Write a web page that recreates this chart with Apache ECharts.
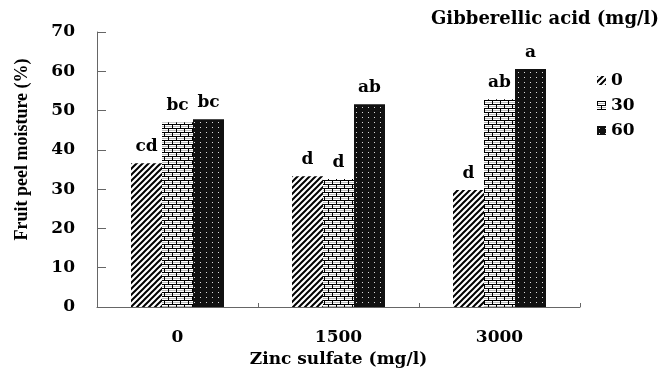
<!DOCTYPE html>
<html>
<head>
<meta charset="utf-8">
<script src="https://cdn.jsdelivr.net/npm/echarts@6/dist/echarts.min.js"></script>
<style>
  html, body { margin: 0; padding: 0; background: #fff; }
  #chart { width: 672px; height: 374px; }
</style>
</head>
<body>
<div id="chart"></div>
<script>
// zinc sulfate levels (x categories)
const zincLevels = ['0', '1500', '3000'];
// gibberellic acid levels (series)
const gaLevels = ['0', '30', '60'];
const ga0 = [36.6, 33.3, 29.8];
const ga30 = [47.0, 32.6, 52.9];
const ga60 = [47.8, 51.6, 60.6];
const letters0 = ['cd', 'd', 'd'];
const letters30 = ['bc', 'd', 'ab'];
const letters60 = ['bc', 'ab', 'a'];

const wide = 'DejaVu Serif';
const narrow = 'Liberation Serif';

function makeCanvas(w, h) {
  const c = document.createElement('canvas');
  c.width = w;
  c.height = h;
  return c;
}

function hatchPattern() {
  const c = makeCanvas(6, 6);
  const g = c.getContext('2d');
  g.fillStyle = '#fff';
  g.fillRect(0, 0, 6, 6);
  g.strokeStyle = '#000';
  g.lineWidth = 2;
  g.beginPath();
  g.moveTo(-3, 3); g.lineTo(3, -3);
  g.moveTo(0, 6); g.lineTo(6, 0);
  g.moveTo(3, 9); g.lineTo(9, 3);
  g.stroke();
  return c;
}

function brickPattern() {
  const c = makeCanvas(8, 8);
  const g = c.getContext('2d');
  g.fillStyle = '#fff';
  g.fillRect(0, 0, 8, 8);
  g.fillStyle = '#bbb';
  g.fillRect(0, 2, 8, 1);
  g.fillRect(0, 6, 8, 1);
  g.fillStyle = '#000';
  g.fillRect(0, 0, 8, 1);
  g.fillRect(0, 4, 8, 1);
  g.fillRect(0, 1, 1, 3);
  g.fillRect(4, 5, 1, 3);
  return c;
}

function dotPattern() {
  const c = makeCanvas(6, 5);
  const g = c.getContext('2d');
  g.fillStyle = '#111';
  g.fillRect(0, 0, 6, 5);
  g.fillStyle = 'rgba(255,255,255,0.85)';
  g.fillRect(2, 2, 1, 1);
  return c;
}

const patterns = [hatchPattern(), brickPattern(), dotPattern()];
const seriesData = [ga0, ga30, ga60];
const seriesLetters = [letters0, letters30, letters60];

const chart = echarts.init(document.getElementById('chart'), null, { renderer: 'canvas' });

chart.setOption({
  animation: false,
  backgroundColor: '#fff',
  title: {
    text: 'Gibberellic acid (mg/l)',
    left: 426,
    top: 5,
    textStyle: { fontFamily: wide, fontWeight: 'bold', fontSize: 18, color: '#000' }
  },
  legend: {
    orient: 'vertical',
    left: 592,
    top: 67,
    itemWidth: 9,
    itemHeight: 9,
    itemGap: 8,
    icon: 'rect',
    textStyle: { fontFamily: wide, fontWeight: 'bold', fontSize: 17, color: '#000' },
    data: gaLevels
  },
  grid: { left: 97, right: 92, top: 32, bottom: 67 },
  xAxis: {
    type: 'category',
    data: zincLevels,
    name: 'Zinc sulfate (mg/l)',
    nameLocation: 'middle',
    nameGap: 43,
    nameTextStyle: { fontFamily: wide, fontWeight: 'bold', fontSize: 17, color: '#000' },
    axisLine: { lineStyle: { color: '#666', width: 1 } },
    axisTick: { show: true, inside: true, length: 4, lineStyle: { color: '#666' } },
    axisLabel: { fontFamily: wide, fontWeight: 'bold', fontSize: 17, color: '#000', margin: 22 }
  },
  yAxis: {
    type: 'value',
    min: 0,
    max: 70,
    interval: 10,
    name: 'Fruit peel moisture (%)',
    nameLocation: 'middle',
    nameGap: 66,
    nameTextStyle: { fontFamily: narrow, fontWeight: 'bold', fontSize: 18, color: '#000', padding: [0, 0, 0, 40] },
    splitLine: { show: false },
    axisLine: { show: true, lineStyle: { color: '#666', width: 1 } },
    axisTick: { show: true, inside: true, length: 9, lineStyle: { color: '#666' } },
    axisLabel: { fontFamily: wide, fontWeight: 'bold', fontSize: 17, color: '#000', margin: 22 }
  },
  series: gaLevels.map((name, i) => ({
    name: name,
    type: 'bar',
    barWidth: 31,
    barGap: '0%',
    data: seriesData[i],
    itemStyle: { color: { image: patterns[i], repeat: 'repeat' } },
    label: {
      show: true,
      position: 'top',
      distance: 8,
      fontFamily: wide,
      fontWeight: 'bold',
      fontSize: 17,
      color: '#000',
      formatter: (p) => seriesLetters[i][p.dataIndex]
    }
  }))
});
</script>
</body>
</html>
